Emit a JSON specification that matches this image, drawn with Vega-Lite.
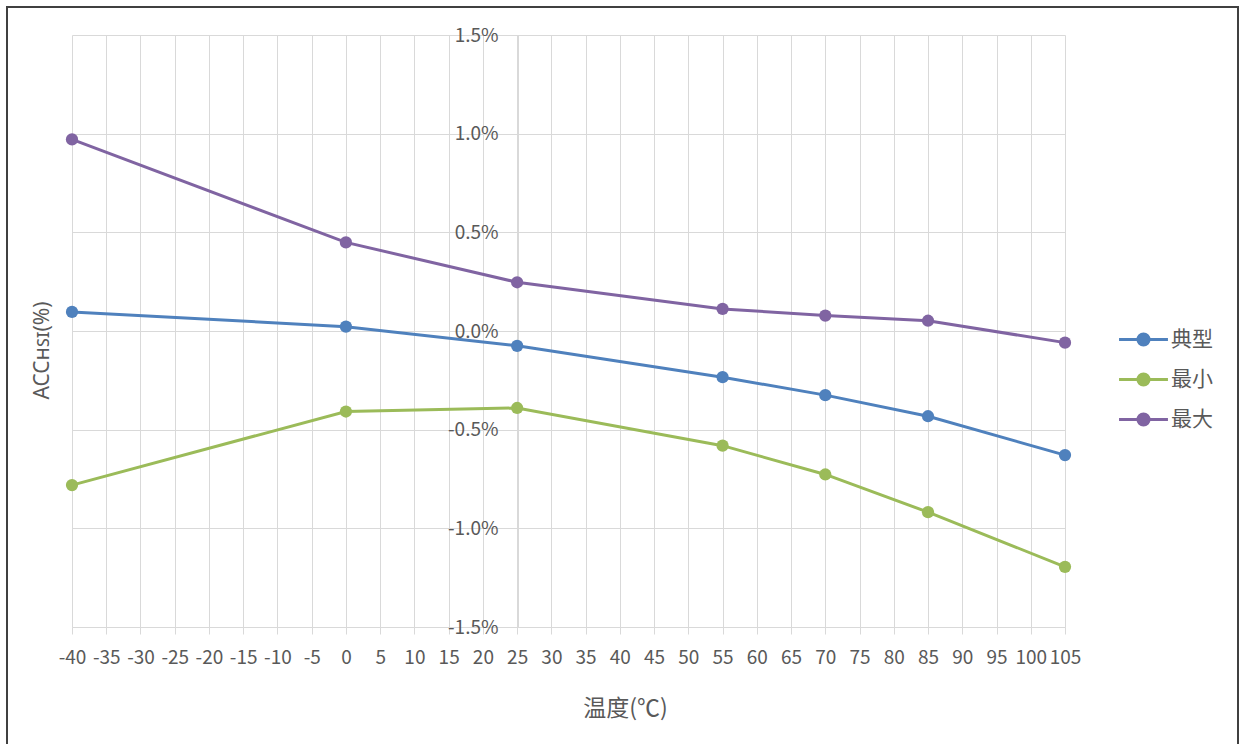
{
  "$schema": "https://vega.github.io/schema/vega-lite/v6.json",
  "width": 1231,
  "height": 743,
  "autosize": {"type": "none"},
  "padding": {"left": 7, "top": 7, "right": 8, "bottom": -6},
  "background": "white",
  "config": {
    "locale": {
      "number": {"decimal": ".", "thousands": ",", "grouping": [3], "currency": ["", ""], "minus": "-"}
    },
    "view": {"stroke": "#404040", "strokeWidth": 2, "fill": "white"},
    "font": "Noto Sans CJK SC",
    "axis": {
      "labelColor": "#595959",
      "titleColor": "#595959",
      "titleFontWeight": "normal",
      "gridColor": "#d9d9d9",
      "gridWidth": 1,
      "domainColor": "#d9d9d9",
      "tickColor": "#d9d9d9",
      "domainWidth": 1,
      "tickWidth": 1
    }
  },
  "data": {
    "values": [
      {"series": "典型", "temp": -40, "acc": 0.000966},
      {"series": "典型", "temp": 0, "acc": 0.00022},
      {"series": "典型", "temp": 25, "acc": -0.00075},
      {"series": "典型", "temp": 55, "acc": -0.00234},
      {"series": "典型", "temp": 70, "acc": -0.00325},
      {"series": "典型", "temp": 85, "acc": -0.00432},
      {"series": "典型", "temp": 105, "acc": -0.00629},
      {"series": "最小", "temp": -40, "acc": -0.00781},
      {"series": "最小", "temp": 0, "acc": -0.00408},
      {"series": "最小", "temp": 25, "acc": -0.0039},
      {"series": "最小", "temp": 55, "acc": -0.00581},
      {"series": "最小", "temp": 70, "acc": -0.00727},
      {"series": "最小", "temp": 85, "acc": -0.00918},
      {"series": "最小", "temp": 105, "acc": -0.01195},
      {"series": "最大", "temp": -40, "acc": 0.00971},
      {"series": "最大", "temp": 0, "acc": 0.00449},
      {"series": "最大", "temp": 25, "acc": 0.00247},
      {"series": "最大", "temp": 55, "acc": 0.00112},
      {"series": "最大", "temp": 70, "acc": 0.00078},
      {"series": "最大", "temp": 85, "acc": 0.00052},
      {"series": "最大", "temp": 105, "acc": -0.00059}
    ]
  },
  "encoding": {
    "x": {
      "field": "temp",
      "type": "quantitative",
      "scale": {"domain": [-40, 105], "range": [65, 1058], "nice": false, "zero": false},
      "axis": {
        "orient": "top",
        "offset": -620,
        "values": [-40, -35, -30, -25, -20, -15, -10, -5, 0, 5, 10, 15, 20, 25, 30, 35, 40, 45, 50, 55, 60, 65, 70, 75, 80, 85, 90, 95, 100, 105],
        "format": "d",
        "grid": true,
        "tickSize": -7,
        "labelPadding": -14,
        "labelBaseline": "top",
        "labelFontSize": 19,
        "labelOverlap": false,
        "labelFlush": false,
        "labelBound": false,
        "title": "温度(℃)",
        "titleFontSize": 23,
        "titleX": 618,
        "titleY": 81,
        "titleAlign": "center",
        "titleBaseline": "middle"
      }
    },
    "y": {
      "field": "acc",
      "type": "quantitative",
      "scale": {"domain": [-0.015, 0.015], "range": [620, 28], "nice": false, "zero": false},
      "axis": {
        "orient": "left",
        "offset": -511,
        "values": [-0.015, -0.01, -0.005, 0, 0.005, 0.01, 0.015],
        "format": ".1%",
        "grid": true,
        "tickSize": 7,
        "labelPadding": 13,
        "labelFontSize": 19,
        "labelOverlap": false,
        "labelFlush": false,
        "title": "ACCʜꜱɪ(%)",
        "titleFont": "Noto Sans",
        "titleFontSize": 21,
        "titleAngle": -90,
        "titleX": -476,
        "titleY": 343,
        "titleAlign": "center",
        "titleBaseline": "middle"
      }
    },
    "color": {
      "field": "series",
      "type": "nominal",
      "scale": {"domain": ["典型", "最小", "最大"], "range": ["#4F81BD", "#9BBB59", "#8064A2"]},
      "legend": {
        "orient": "none",
        "legendX": 1120,
        "legendY": 316,
        "title": null,
        "direction": "vertical",
        "padding": 0,
        "symbolType": "M-1.63,0L1.63,0M0.37,0A0.37,0.37,0,1,1,-0.37,0A0.37,0.37,0,1,1,0.37,0Z",
        "symbolSize": 900,
        "symbolStrokeWidth": 3,
        "labelFontSize": 21,
        "labelColor": "#595959",
        "labelOffset": 11,
        "rowPadding": 11,
        "encode": {
          "symbols": {
            "update": {
              "fill": {"scale": "color", "field": "value"},
              "stroke": {"scale": "color", "field": "value"},
              "opacity": {"value": 1}
            }
          }
        }
      }
    }
  },
  "layer": [
    {"mark": {"type": "line", "strokeWidth": 3}},
    {"mark": {"type": "point", "filled": true, "size": 150, "opacity": 1}}
  ]
}
